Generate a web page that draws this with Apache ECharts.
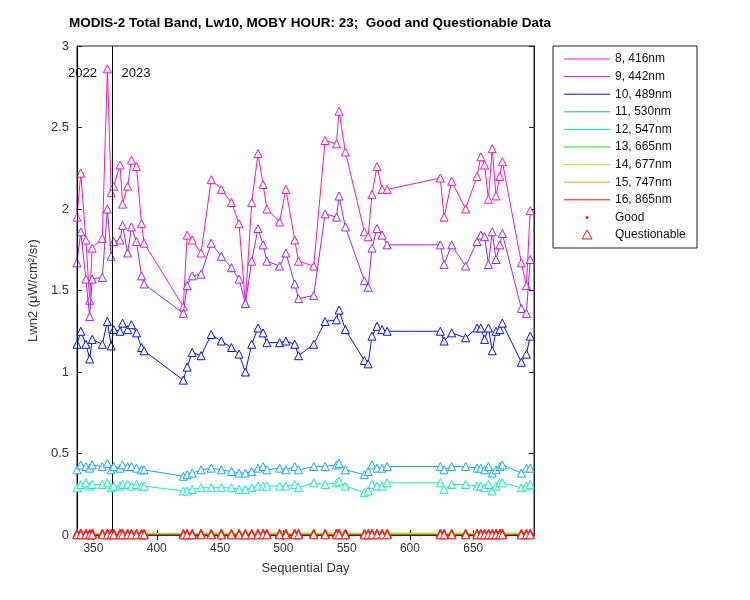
<!DOCTYPE html>
<html><head><meta charset="utf-8">
<script src="https://cdn.jsdelivr.net/npm/echarts@6/dist/echarts.min.js"></script>
<style>html,body{margin:0;padding:0;background:#fff}#c{width:750px;height:600px}</style>
</head><body><div id="c"></div>
<script>
const days = [337,340,344,347,349,357,361,364,366,371,373,377,380,384,388,390,421,424,428,435,443,451,459,465,470,475,480,484,487,497,502,509,512,524,533,542,544,549,564,567,570,574,578,582,624,627,633,644,653,656,659,662,665,668,671,673,688,692,695];
const band8 = [1.95,2.22,1.81,1.44,1.76,1.82,2.86,2.1,2.14,2.27,2.03,2.14,2.3,2.26,1.91,1.79,1.4,1.84,1.81,1.73,2.18,2.12,2.04,1.91,1.42,2.04,2.34,2.15,2.0,1.92,2.12,1.81,1.68,1.65,2.42,2.4,2.6,2.35,1.86,1.83,2.09,2.26,2.12,2.12,2.19,1.95,2.17,2.0,2.2,2.32,2.27,2.06,2.37,2.08,2.2,2.29,1.67,1.53,1.99];
const band9 = [1.67,1.86,1.57,1.34,1.57,1.58,2.0,1.71,1.8,1.81,1.9,1.73,1.89,1.8,1.59,1.54,1.36,1.53,1.59,1.6,1.79,1.71,1.64,1.57,1.42,1.68,1.88,1.78,1.68,1.65,1.73,1.54,1.45,1.47,1.97,1.95,2.08,1.89,1.56,1.52,1.76,1.88,1.84,1.78,1.78,1.66,1.78,1.65,1.8,1.84,1.83,1.66,1.86,1.69,1.78,1.85,1.39,1.36,1.69];
const band10 = [1.17,1.25,1.17,1.08,1.2,1.17,1.31,1.16,1.26,1.25,1.3,1.26,1.29,1.24,1.15,1.13,0.95,1.03,1.12,1.1,1.23,1.19,1.15,1.11,1.0,1.17,1.27,1.24,1.18,1.18,1.19,1.17,1.1,1.17,1.31,1.32,1.38,1.26,1.07,1.05,1.22,1.28,1.26,1.25,1.25,1.19,1.24,1.21,1.27,1.27,1.2,1.27,1.13,1.25,1.26,1.3,1.06,1.11,1.22];
const band11 = [0.40,0.43,0.42,0.41,0.43,0.42,0.44,0.40,0.42,0.41,0.43,0.42,0.42,0.41,0.40,0.40,0.36,0.37,0.38,0.40,0.41,0.40,0.39,0.38,0.38,0.39,0.41,0.42,0.40,0.41,0.40,0.42,0.40,0.42,0.42,0.43,0.44,0.40,0.37,0.39,0.43,0.41,0.41,0.42,0.42,0.40,0.42,0.42,0.41,0.41,0.40,0.42,0.38,0.40,0.42,0.43,0.38,0.41,0.41];
const band12 = [0.29,0.31,0.32,0.30,0.31,0.31,0.32,0.29,0.30,0.30,0.31,0.31,0.30,0.31,0.30,0.30,0.27,0.27,0.28,0.29,0.29,0.29,0.29,0.28,0.28,0.29,0.30,0.30,0.30,0.30,0.30,0.31,0.29,0.32,0.31,0.32,0.33,0.30,0.26,0.27,0.31,0.30,0.30,0.32,0.32,0.28,0.31,0.31,0.30,0.30,0.29,0.31,0.27,0.30,0.32,0.32,0.29,0.30,0.31];
const band13 = [0.011,0.012,0.011,0.010,0.011,0.011,0.012,0.010,0.011,0.011,0.012,0.011,0.011,0.011,0.010,0.010,0.009,0.010,0.010,0.011,0.011,0.011,0.010,0.010,0.010,0.010,0.011,0.011,0.011,0.011,0.011,0.011,0.010,0.011,0.011,0.012,0.012,0.011,0.009,0.010,0.011,0.011,0.011,0.011,0.011,0.010,0.011,0.011,0.011,0.011,0.010,0.011,0.010,0.011,0.011,0.012,0.010,0.010,0.011];
const band14 = [0.009,0.010,0.009,0.008,0.009,0.009,0.010,0.008,0.009,0.009,0.010,0.009,0.009,0.009,0.008,0.008,0.008,0.008,0.008,0.009,0.009,0.009,0.008,0.008,0.008,0.008,0.009,0.009,0.009,0.009,0.009,0.009,0.008,0.009,0.009,0.010,0.010,0.009,0.008,0.008,0.009,0.009,0.009,0.009,0.009,0.008,0.009,0.009,0.009,0.009,0.008,0.009,0.008,0.009,0.009,0.010,0.008,0.008,0.009];
const band15 = [0.003,0.003,0.003,0.002,0.003,0.003,0.003,0.002,0.003,0.003,0.003,0.003,0.003,0.003,0.002,0.002,0.002,0.002,0.002,0.003,0.003,0.003,0.002,0.002,0.002,0.002,0.003,0.003,0.003,0.003,0.003,0.003,0.002,0.003,0.003,0.003,0.003,0.003,0.002,0.002,0.003,0.003,0.003,0.003,0.003,0.002,0.003,0.003,0.003,0.003,0.002,0.003,0.002,0.003,0.003,0.003,0.002,0.002,0.003];
const band16 = [0.001,0.001,0.001,0.001,0.001,0.001,0.001,0.001,0.001,0.001,0.001,0.001,0.001,0.001,0.001,0.001,0.001,0.001,0.001,0.001,0.001,0.001,0.001,0.001,0.001,0.001,0.001,0.001,0.001,0.001,0.001,0.001,0.001,0.001,0.001,0.001,0.001,0.001,0.001,0.001,0.001,0.001,0.001,0.001,0.001,0.001,0.001,0.001,0.001,0.001,0.001,0.001,0.001,0.001,0.001,0.001,0.001,0.001,0.001];
const bandNames = ['8, 416nm','9, 442nm','10, 489nm','11, 530nm','12, 547nm','13, 665nm','14, 677nm','15, 747nm','16, 865nm'];
const bandColors = ['#ff10c0','#a020ff','#0010f0','#10a8ff','#10f0c0','#10f010','#a8f010','#f0a010','#ff1010'];
const yearDays = [337, 365];
const yearLabels = ['2022', '2023'];
const xTicks = [350,400,450,500,550,600,650];

const allBands = [band8,band9,band10,band11,band12,band13,band14,band15,band16];
const series = allBands.map((b,i)=>({
  type:'line', name: bandNames[i], data: days.map((d,j)=>[d,b[j]]),
  symbol:'triangle', symbolSize:8, showSymbol:true,
  lineStyle:{color:bandColors[i], width:1},
  itemStyle:{color:'#fff', borderColor: i>=5 ? '#ff1010' : bandColors[i], borderWidth:1},
  z: 2+i, animation:false
}));
series.push({
  type:'line', data:[], silent:true,
  markLine:{symbol:'none', silent:true, animation:false, label:{show:false},
    lineStyle:{color:'#000', type:'solid', width:1},
    data: yearDays.map(d=>({xAxis:d}))}
});
const chart = echarts.init(document.getElementById('c'));
const font = 'Arial, "Liberation Sans", sans-serif';
const lg = [];
const lx = 553, ly = 46;
lg.push({type:'rect', shape:{x:lx, y:ly, width:144, height:202}, style:{fill:'#fff', stroke:'#222', lineWidth:1}, z:100});
bandNames.forEach((n,i)=>{
  const y = ly + 13 + i*17.6;
  lg.push({type:'line', shape:{x1:lx+11, y1:y, x2:lx+57, y2:y}, style:{stroke:bandColors[i], lineWidth:1}, z:101});
  lg.push({type:'text', x:lx+62, y:y, style:{text:n, fill:'#111', font:'12px '+font, verticalAlign:'middle'}, z:101});
});
lg.push({type:'circle', shape:{cx:lx+34, cy:ly+13+9*17.6, r:1.5}, style:{fill:'#ff1010'}, z:101});
lg.push({type:'text', x:lx+62, y:ly+13+9*17.6, style:{text:'Good', fill:'#111', font:'12px '+font, verticalAlign:'middle'}, z:101});
lg.push({type:'polygon', shape:{points:[[lx+34,ly+13+10*17.6-5],[lx+39,ly+13+10*17.6+4],[lx+29,ly+13+10*17.6+4]]}, style:{fill:'#fff', stroke:'#ff1010', lineWidth:1}, z:101});
lg.push({type:'text', x:lx+62, y:ly+13+10*17.6, style:{text:'Questionable', fill:'#111', font:'12px '+font, verticalAlign:'middle'}, z:101});
const axLine = {show:true, lineStyle:{color:'#222'}};
chart.setOption({
  animation:false,
  textStyle:{fontFamily:font},
  title:{text:'MODIS-2 Total Band, Lw10, MOBY HOUR: 23;  Good and Questionable Data', left:305, top:11, textAlign:'center',
    textStyle:{fontSize:13.5, fontWeight:'bold', color:'#000', fontFamily:font}},
  grid:{left:77, right:216, top:46, bottom:65, show:true, borderColor:'#222', borderWidth:1},
  xAxis:[{type:'value', min:337, max:698, name:'Sequential Day', nameLocation:'middle', nameGap:27,
    nameTextStyle:{fontSize:13, color:'#333'},
    axisLine:axLine, splitLine:{show:false},
    axisTick:{inside:true, length:5, customValues:xTicks, lineStyle:{color:'#222'}},
    axisLabel:{customValues:xTicks, fontSize:12, color:'#333', margin:8}},
    {type:'value', position:'top', min:337, max:698, axisLine:axLine, splitLine:{show:false},
    axisTick:{inside:true, length:5, customValues:xTicks, lineStyle:{color:'#222'}},
    axisLabel:{show:false}}],
  yAxis:[{type:'value', min:0, max:3, interval:0.5, name:'Lwn2 (μW/cm²/sr)', nameLocation:'middle', nameGap:36,
    nameTextStyle:{fontSize:13, color:'#333'},
    axisLine:axLine, splitLine:{show:false},
    axisTick:{inside:true, length:5, lineStyle:{color:'#222'}},
    axisLabel:{fontSize:13, color:'#333', margin:8}},
    {type:'value', position:'right', min:0, max:3, interval:0.5, axisLine:axLine, splitLine:{show:false},
    axisTick:{inside:true, length:5, lineStyle:{color:'#222'}}, axisLabel:{show:false}}],
  series,
  graphic: lg
});
const gtexts = yearLabels.map((t,i)=>{
  const p = chart.convertToPixel({xAxisIndex:0, yAxisIndex:0}, [yearDays[i], 2.83]);
  return {type:'text', x: p[0] + (i===0 ? -9 : 9), y: p[1], style:{text:t, fill:'#111', font:'13px '+font, verticalAlign:'middle'}, z:50};
});
chart.setOption({graphic: lg.concat(gtexts)});
</script></body></html>
